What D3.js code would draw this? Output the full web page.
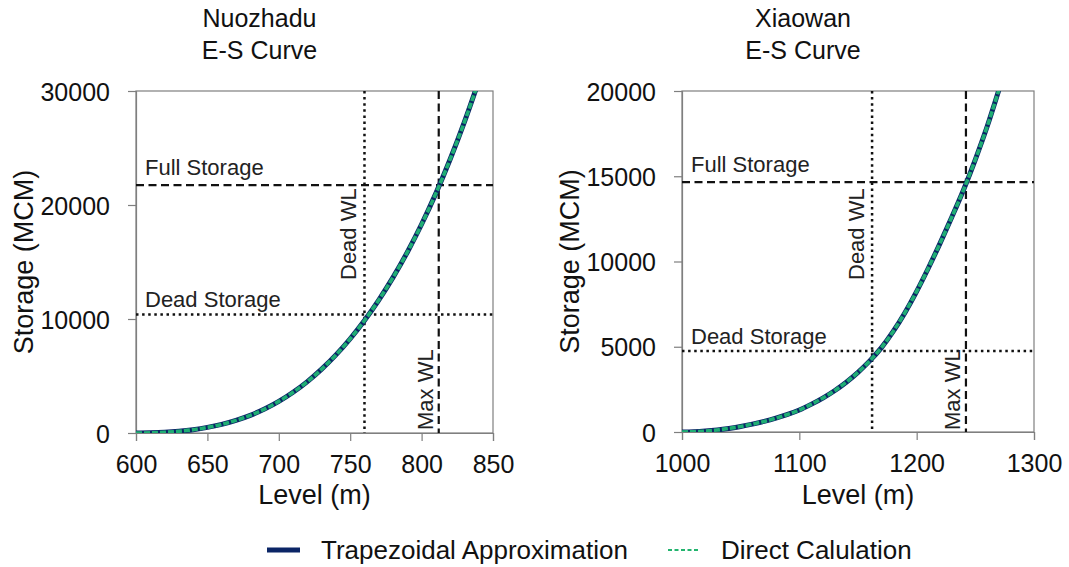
<!DOCTYPE html>
<html>
<head>
<meta charset="utf-8">
<script src="https://cdn.jsdelivr.net/npm/d3@7"></script>
<style>
  html, body { margin: 0; padding: 0; background: #fff; }
  svg { display: block; font-family: "Liberation Sans", Arial, sans-serif; }
</style>
</head>
<body>
<svg id="chart" width="1069" height="567"></svg>
<script>
// ---------- Data ----------
const nuozhaduLevel   = [600, 610, 620, 630, 640, 650, 660, 670, 680, 690, 700, 710, 720, 730, 740, 750, 760, 770, 780, 790, 800, 810, 820, 830, 840];
const nuozhaduTrap    = [0, 15, 60, 150, 290, 490, 760, 1110, 1550, 2100, 2770, 3570, 4510, 5600, 6850, 8270, 9870, 11660, 13650, 15860, 18310, 21020, 24010, 27290, 30870];
const nuozhaduDirect  = [0, 15, 60, 150, 290, 490, 760, 1110, 1550, 2100, 2770, 3570, 4510, 5600, 6850, 8270, 9870, 11660, 13650, 15860, 18310, 21020, 24010, 27290, 30870];
const nuozhaduXTicks  = [600, 650, 700, 750, 800, 850];
const nuozhaduYTicks  = [0, 10000, 20000, 30000];
const nuozhaduMarks   = { deadWL: 760, maxWL: 812, fullStorage: 21750, deadStorage: 10400 };

const xiaowanLevel    = [1000, 1010, 1020, 1030, 1040, 1050, 1060, 1070, 1080, 1090, 1100, 1110, 1120, 1130, 1140, 1150, 1160, 1170, 1180, 1190, 1200, 1210, 1220, 1230, 1240, 1250, 1260, 1270];
const xiaowanTrap     = [0, 15, 55, 120, 210, 320, 460, 620, 810, 1030, 1290, 1620, 1990, 2420, 2920, 3500, 4170, 4950, 5900, 7000, 8250, 9620, 11080, 12610, 14210, 15980, 17900, 20050];
const xiaowanDirect   = [0, 15, 55, 120, 210, 320, 460, 620, 810, 1030, 1290, 1620, 1990, 2420, 2920, 3500, 4170, 4950, 5900, 7000, 8250, 9620, 11080, 12610, 14210, 15980, 17900, 20050];
const xiaowanXTicks   = [1000, 1100, 1200, 1300];
const xiaowanYTicks   = [0, 5000, 10000, 15000, 20000];
const xiaowanMarks    = { deadWL: 1162, maxWL: 1242, fullStorage: 14650, deadStorage: 4750 };

const seriesNames = ["Trapezoidal Approximation", "Direct Calulation"];

// ---------- Styles ----------
const NAVY = "#0b2566";
const GREEN = "#1fae74";
const LEGEND_GREEN = "#22b46e";
const AXIS = "#7f7f7f";

const svg = d3.select("#chart");

function panel(cfg) {
  const { title, level, trap, direct, xDomain, yDomain, xTicks, yTicks, marks, left, right, top, bottom, id } = cfg;
  const x = d3.scaleLinear().domain(xDomain).range([left, right]);
  const y = d3.scaleLinear().domain(yDomain).range([bottom, top]);
  const g = svg.append("g");

  svg.append("clipPath").attr("id", id).append("rect")
    .attr("x", left).attr("y", top).attr("width", right - left).attr("height", bottom - top);

  // title
  const cx = (left + right) / 2 - 55;
  g.append("text").attr("x", cx).attr("y", 27).attr("text-anchor", "middle")
    .attr("font-size", 25).attr("fill", "#111").text(title);
  g.append("text").attr("x", cx).attr("y", 59).attr("text-anchor", "middle")
    .attr("font-size", 25).attr("fill", "#111").text("E-S Curve");

  // frame
  g.append("rect").attr("x", left).attr("y", top).attr("width", right - left).attr("height", bottom - top)
    .attr("fill", "none").attr("stroke", AXIS).attr("stroke-width", 1.2);

  // axes
  const xAxis = g.append("g").attr("transform", `translate(0,${bottom})`)
    .call(d3.axisBottom(x).tickValues(xTicks).tickSize(8).tickPadding(14).tickFormat(d3.format("d")));
  const yAxis = g.append("g").attr("transform", `translate(${left},0)`)
    .call(d3.axisLeft(y).tickValues(yTicks).tickSize(8).tickPadding(18).tickFormat(d3.format("d")));
  [xAxis, yAxis].forEach(a => {
    a.select(".domain").attr("stroke", AXIS).attr("stroke-width", 1.2);
    a.selectAll(".tick line").attr("stroke", AXIS).attr("stroke-width", 1.2);
    a.selectAll(".tick text").attr("font-size", 25).attr("fill", "#111")
      .attr("font-family", "'Liberation Sans', Arial, sans-serif");
  });
  xAxis.selectAll(".tick text").attr("dy", "0.71em");
  yAxis.selectAll(".tick text").attr("dy", "0.36em");

  // axis labels
  g.append("text").attr("x", (left + right) / 2).attr("y", 504).attr("text-anchor", "middle")
    .attr("font-size", 27).attr("fill", "#111").text("Level (m)");
  g.append("text").attr("transform", `translate(${left - 103},${(top + bottom) / 2}) rotate(-90)`)
    .attr("text-anchor", "middle").attr("font-size", 27).attr("fill", "#111").text("Storage (MCM)");

  // reference lines
  const dotted = "2.5,3.6", dashed = "8,4.5";
  g.append("line").attr("x1", left).attr("x2", right).attr("y1", y(marks.deadStorage)).attr("y2", y(marks.deadStorage))
    .attr("stroke", "#111").attr("stroke-width", 2.5).attr("stroke-dasharray", dotted);
  g.append("line").attr("x1", left).attr("x2", right).attr("y1", y(marks.fullStorage)).attr("y2", y(marks.fullStorage))
    .attr("stroke", "#111").attr("stroke-width", 2.2).attr("stroke-dasharray", dashed);
  g.append("line").attr("x1", x(marks.deadWL)).attr("x2", x(marks.deadWL)).attr("y1", top).attr("y2", bottom)
    .attr("stroke", "#111").attr("stroke-width", 2.5).attr("stroke-dasharray", dotted);
  g.append("line").attr("x1", x(marks.maxWL)).attr("x2", x(marks.maxWL)).attr("y1", top).attr("y2", bottom)
    .attr("stroke", "#111").attr("stroke-width", 2.2).attr("stroke-dasharray", dashed);

  // annotations
  g.append("text").attr("x", left + 9).attr("y", y(marks.fullStorage) - 10).attr("font-size", 22)
    .attr("fill", "#222").text("Full Storage");
  g.append("text").attr("x", left + 9).attr("y", y(marks.deadStorage) - 7).attr("font-size", 22)
    .attr("fill", "#222").text("Dead Storage");
  g.append("text").attr("transform", `translate(${x(marks.deadWL) - 8},280) rotate(-90)`)
    .attr("font-size", 22).attr("fill", "#222").text("Dead WL");
  g.append("text").attr("transform", `translate(${x(marks.maxWL) - 6},430) rotate(-90)`)
    .attr("font-size", 22).attr("fill", "#222").text("Max WL");

  // curves
  const line = d3.line().x(d => x(d[0])).y(d => y(d[1])).curve(d3.curveMonotoneX);
  const cg = g.append("g").attr("clip-path", `url(#${id})`);
  cg.append("path").datum(level.map((l, i) => [l, trap[i]])).attr("d", line)
    .attr("fill", "none").attr("stroke", NAVY).attr("stroke-width", 5);
  cg.append("path").datum(level.map((l, i) => [l, direct[i]])).attr("d", line)
    .attr("fill", "none").attr("stroke", GREEN).attr("stroke-width", 3.6).attr("stroke-dasharray", "6,2");
}

panel({
  id: "clipN", title: "Nuozhadu", level: nuozhaduLevel, trap: nuozhaduTrap, direct: nuozhaduDirect,
  xDomain: [600, 850], yDomain: [0, 30000], xTicks: nuozhaduXTicks, yTicks: nuozhaduYTicks, marks: nuozhaduMarks,
  left: 136, right: 493, top: 91, bottom: 433
});
panel({
  id: "clipX", title: "Xiaowan", level: xiaowanLevel, trap: xiaowanTrap, direct: xiaowanDirect,
  xDomain: [1000, 1300], yDomain: [0, 20000], xTicks: xiaowanXTicks, yTicks: xiaowanYTicks, marks: xiaowanMarks,
  left: 682, right: 1034, top: 91, bottom: 432
});

// legend
const lg = svg.append("g");
lg.append("line").attr("x1", 267).attr("x2", 300).attr("y1", 550).attr("y2", 550)
  .attr("stroke", NAVY).attr("stroke-width", 5);
lg.append("text").attr("x", 321).attr("y", 559).attr("font-size", 26).attr("fill", "#111").text(seriesNames[0]);
lg.append("line").attr("x1", 668).attr("x2", 700).attr("y1", 550).attr("y2", 550)
  .attr("stroke", LEGEND_GREEN).attr("stroke-width", 2.2).attr("stroke-dasharray", "4,2.5");
lg.append("text").attr("x", 721).attr("y", 559).attr("font-size", 26).attr("fill", "#111").text(seriesNames[1]);
</script>
</body>
</html>
